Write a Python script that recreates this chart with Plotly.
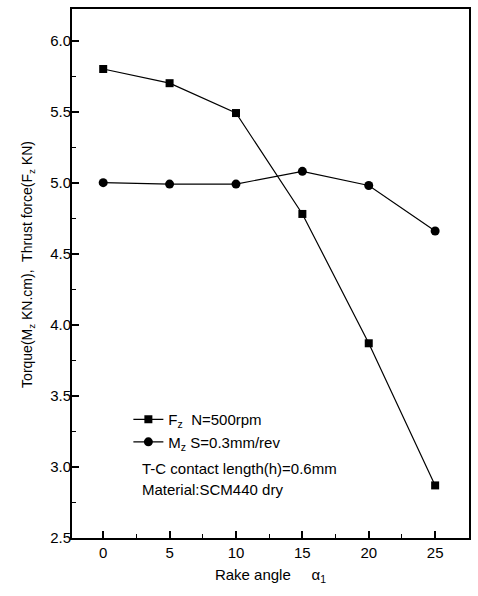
import plotly.graph_objects as go

rake_angle = [0, 5, 10, 15, 20, 25]
thrust_fz = [5.80, 5.70, 5.49, 4.78, 3.87, 2.87]
torque_mz = [5.00, 4.99, 4.99, 5.08, 4.98, 4.66]

x_ticks = [0, 5, 10, 15, 20, 25]
y_ticks = [2.5, 3.0, 3.5, 4.0, 4.5, 5.0, 5.5, 6.0]

FONT = "Liberation Sans, Arial, sans-serif"

fig = go.Figure()
fig.add_trace(go.Scatter(
    x=rake_angle, y=thrust_fz, mode="lines+markers",
    name="F<sub>z</sub>  N=500rpm",
    line=dict(color="black", width=1.2),
    marker=dict(symbol="square", size=8, color="black"),
))
fig.add_trace(go.Scatter(
    x=rake_angle, y=torque_mz, mode="lines+markers",
    name="M<sub>z</sub> S=0.3mm/rev",
    line=dict(color="black", width=1.2),
    marker=dict(symbol="circle", size=9, color="black"),
))

fig.update_layout(
    width=478, height=596,
    margin=dict(l=72, r=9, t=7, b=58),
    paper_bgcolor="white", plot_bgcolor="white",
    font=dict(family=FONT, color="black", size=15),
    showlegend=True,
    legend=dict(x=0.142, y=0.255, xanchor="left", yanchor="top",
                bgcolor="rgba(0,0,0,0)", font=dict(size=15, color="black"),
                tracegroupgap=0, itemwidth=30),
    annotations=[
        dict(text="T-C contact length(h)=0.6mm", x=0.171, y=0.132,
             xref="paper", yref="paper", xanchor="left", yanchor="middle",
             showarrow=False, font=dict(size=15, color="black")),
        dict(text="Material:SCM440 dry", x=0.171, y=0.091,
             xref="paper", yref="paper", xanchor="left", yanchor="middle",
             showarrow=False, font=dict(size=15, color="black")),
        dict(text="Torque(M<sub>z</sub> KN.cm),  Thrust force(F<sub>z</sub> KN)",
             x=-0.111, y=0.518, xref="paper", yref="paper",
             xanchor="center", yanchor="middle", textangle=-90,
             showarrow=False, font=dict(size=14, color="black")),
    ],
)

fig.update_xaxes(
    range=[-2.35, 27.55], tickvals=x_ticks, ticktext=[str(v) for v in x_ticks],
    ticks="inside", ticklen=7, tickwidth=1.5, tickcolor="black",
    minor=dict(ticks="inside", ticklen=4, tickwidth=1.2, tickcolor="black", dtick=2.5, tick0=0),
    showline=True, linecolor="black", linewidth=2, mirror=True,
    showgrid=False, zeroline=False,
    tickfont=dict(size=15, color="black"),
    title=dict(text="Rake angle     α<sub>1</sub>", font=dict(size=15, color="black"), standoff=9),
)
fig.update_yaxes(
    range=[2.5, 6.222], tickvals=y_ticks, ticktext=[f"{v:.1f}" for v in y_ticks],
    ticks="inside", ticklen=7, tickwidth=1.5, tickcolor="black",
    minor=dict(ticks="inside", ticklen=4, tickwidth=1.2, tickcolor="black", dtick=0.25, tick0=2.5),
    showline=True, linecolor="black", linewidth=2, mirror=True,
    showgrid=False, zeroline=False, ticklabelstandoff=-4,
    tickfont=dict(size=15, color="black"),
)

fig.write_html("out.html")
